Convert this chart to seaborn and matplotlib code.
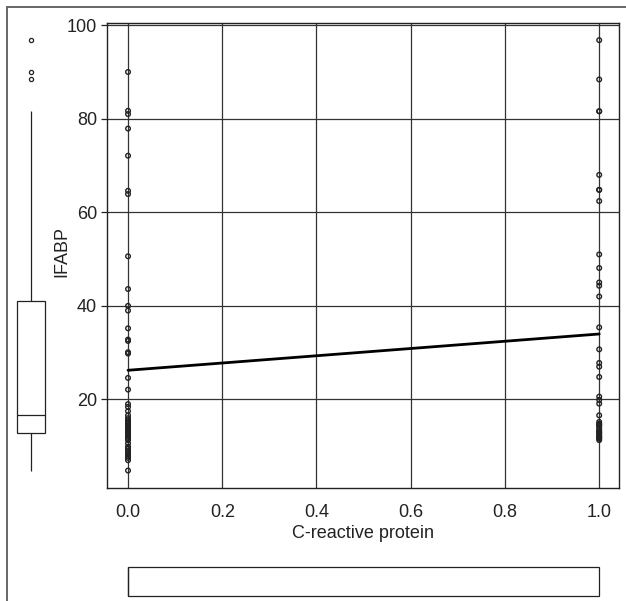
import numpy as np
import pandas as pd
import seaborn as sns
from matplotlib import pyplot as plt
from matplotlib.lines import Line2D

# IFABP values, per C-reactive protein group (0 / 1)
ifabp_crp0 = [90.0, 81.7, 81.0, 77.9, 72.1, 64.6, 63.9, 50.6, 43.6, 40.0, 39.0,
              35.2, 32.8, 32.5, 30.1, 29.8, 24.6, 22.1, 19.0, 18.4, 17.5, 16.6,
              16.0, 15.6, 15.3, 15.0, 14.7, 14.4, 14.2, 14.1, 13.8, 13.5, 13.2,
              12.9, 12.8, 12.6, 12.3, 12.0, 11.7, 11.3, 10.6, 9.9, 9.5, 9.1,
              8.7, 8.3, 7.9, 7.5, 7.0, 4.8]
ifabp_crp1 = [96.8, 88.4, 81.6, 81.6, 68.0, 64.8, 64.8, 62.4, 51.0, 48.1, 45.0,
              44.3, 42.0, 35.4, 30.7, 27.8, 27.0, 24.8, 20.6, 19.9, 19.1, 16.6,
              15.2, 14.8, 14.6, 14.4, 14.0, 13.6, 13.2, 13.0, 12.8, 12.5, 12.2,
              11.9, 11.8, 11.6, 11.3]

x_ticks = [0.0, 0.2, 0.4, 0.6, 0.8, 1.0]
y_ticks = [20, 40, 60, 80, 100]

df = pd.DataFrame({
    "crp": [0] * len(ifabp_crp0) + [1] * len(ifabp_crp1),
    "ifabp": ifabp_crp0 + ifabp_crp1,
})

sns.set_style("white")
plt.rcParams["font.family"] = ["Liberation Sans", "DejaVu Sans"]
ink = "#222222"

fig = plt.figure(figsize=(6.26, 6.01), dpi=100)

# Eixos: principal, boxplot lateral (y) e boxplot inferior (x)
ax = fig.add_axes([0.1714, 0.1875, 0.8174, 0.7737])
ax_left = fig.add_axes([0.0112, 0.1875, 0.0767, 0.7737], sharey=ax)
ax_bot = fig.add_axes([0.1714, -0.0083, 0.8174, 0.0815], sharex=ax)

# Pontos e reta de regressão
ax.grid(True, color="#333333", linewidth=0.9)
ax.set_axisbelow(True)
sns.scatterplot(data=df, x="crp", y="ifabp", ax=ax, marker="o", s=11,
                facecolor="none", edgecolor=ink, linewidth=1.0, zorder=3)
sns.regplot(data=df, x="crp", y="ifabp", ax=ax, scatter=False, ci=None,
            color="black", line_kws={"linewidth": 2.0, "zorder": 4})

ax.set_xlim(-0.044, 1.042)
ax.set_ylim(1.0, 100.4)
ax.set_xticks(x_ticks)
ax.set_xticklabels([f"{t:.1f}" for t in x_ticks])
ax.set_yticks(y_ticks)
ax.tick_params(axis="x", length=0, pad=11, labelsize=13, colors=ink)
ax.tick_params(axis="y", length=4.3, width=0.9, pad=3, labelsize=13,
               colors=ink, left=True)
ax.set_xlabel("C-reactive protein", fontsize=13, color=ink, labelpad=3)
ax.set_ylabel("IFABP", fontsize=13, color=ink)
ax.yaxis.set_label_coords(-0.072, 0.51)
for s in ax.spines.values():
    s.set_color(ink)
    s.set_linewidth(1.0)

box_kw = dict(color="white", linecolor=ink, linewidth=0.9, width=0.6,
              showcaps=False,
              flierprops={"marker": "o", "markersize": 3,
                          "markerfacecolor": "none", "markeredgecolor": ink,
                          "markeredgewidth": 0.9})

# Boxplot lateral do IFABP
sns.boxplot(y=df["ifabp"], ax=ax_left, **box_kw)
ax_left.set_xlim(-0.5, 0.5)
ax_left.axis("off")

# Boxplot inferior da proteína C-reativa
sns.boxplot(x=df["crp"], ax=ax_bot, orient="h", **box_kw)
ax_bot.set_ylim(-0.5, 0.5)
ax_bot.axis("off")

# Limites de novo (eixos compartilhados)
ax.set_xlim(-0.044, 1.042)
ax.set_ylim(1.0, 100.4)

# Moldura externa (só esquerda e topo)
fig.add_artist(Line2D([0.0112, 0.0112], [0.0, 0.9884], color="#666666",
                      linewidth=1.4))
fig.add_artist(Line2D([0.0112, 1.0], [0.9884, 0.9884], color="#666666",
                      linewidth=1.4))

plt.savefig("out.png", dpi=100)
plt.close()
